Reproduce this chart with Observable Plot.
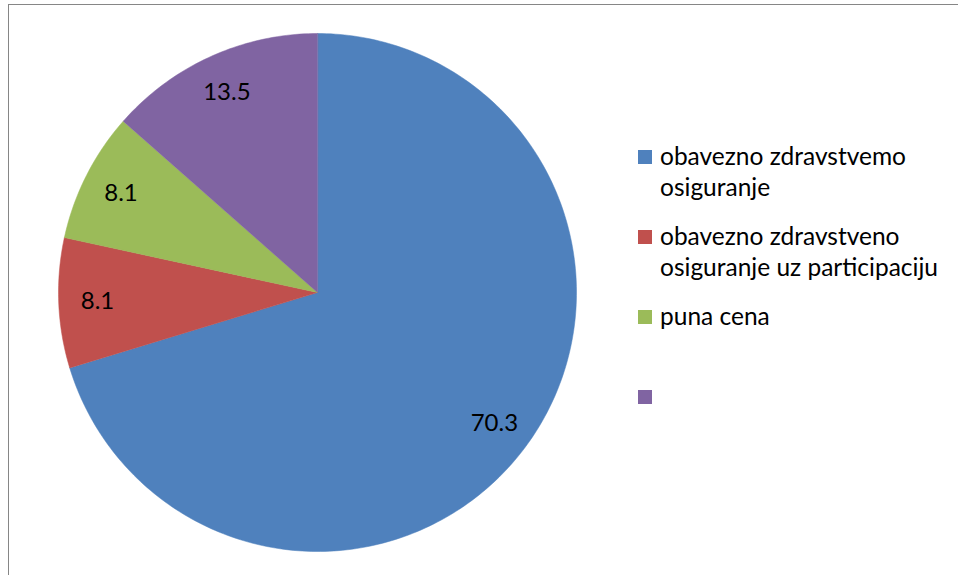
<!DOCTYPE html>
<html>
<head>
<meta charset="utf-8">
<script src="https://cdn.jsdelivr.net/npm/d3@7"></script>
<script src="https://cdn.jsdelivr.net/npm/@observablehq/plot@0.6"></script>
<style>
  html, body { margin: 0; padding: 0; background: #fff; }
  #wrap { position: relative; width: 958px; height: 575px; overflow: hidden; font-family: Lato, "Open Sans", sans-serif; }
  #frame { position: absolute; left: 8px; top: 4px; width: 960px; height: 600px; border-left: 1.5px solid #868686; border-top: 1.5px solid #868686; box-sizing: border-box; }
  #chart { position: absolute; left: 0; top: 0; }
  #legend { position: absolute; left: 638px; top: 140px; width: 318px; }
  .item { position: relative; padding-left: 22px; font-size: 24.5px; line-height: 31px; color: #000; height: 80px; }
  .sw { position: absolute; left: 0; top: 10px; width: 14px; height: 14px; }
</style>
</head>
<body>
<div id="wrap">
  <div id="frame"></div>
  <div id="chart"></div>
  <div id="legend"></div>
</div>
<script>
const categories = [
  "obavezno zdravstvemo osiguranje",
  "obavezno zdravstveno osiguranje uz participaciju",
  "puna cena",
  ""
];
const values = [70.3, 8.1, 8.1, 13.5];
const labels = ["70.3", "8.1", "8.1", "13.5"];
const colors = ["#4F81BD", "#C0504D", "#9BBB59", "#8064A2"];

const total = d3.sum(values);
const slices = [];
let acc = 0;
values.forEach((v, i) => {
  const a0 = acc / total * 2 * Math.PI;
  acc += v;
  const a1 = acc / total * 2 * Math.PI;
  slices.push({key: "s" + i, cat: categories[i], value: v, label: labels[i], a0, a1, color: colors[i]});
});

// polygon points for each slice (unit circle, clockwise from 12 o'clock)
const pts = [];
slices.forEach(s => {
  pts.push({key: s.key, color: s.color, x: 0, y: 0});
  const n = Math.max(2, Math.ceil((s.a1 - s.a0) / (Math.PI / 180)));
  for (let k = 0; k <= n; k++) {
    const a = s.a0 + (s.a1 - s.a0) * k / n;
    pts.push({key: s.key, color: s.color, x: Math.sin(a), y: Math.cos(a)});
  }
});

const labelPts = slices.map(s => {
  const m = (s.a0 + s.a1) / 2;
  return {label: s.label, x: 0.85 * Math.sin(m), y: 0.85 * Math.cos(m)};
});

const plot = Plot.plot({
  width: 958,
  height: 575,
  margin: 0,
  style: {background: "transparent", overflow: "visible"},
  x: {domain: [-1, 1], range: [58, 576], axis: null},
  y: {domain: [-1, 1], range: [551, 33], axis: null},
  marks: [
    Plot.line(pts, {x: "x", y: "y", z: "key", fill: "color", stroke: "color", strokeWidth: 0.5, curve: "linear-closed"}),
    Plot.text(labelPts, {x: "x", y: "y", text: "label", fontSize: 24, fill: "#000", fontFamily: "Lato, 'Open Sans', sans-serif"})
  ]
});
document.getElementById("chart").appendChild(plot);

const legend = document.getElementById("legend");
slices.forEach(s => {
  const item = document.createElement("div");
  item.className = "item";
  const sw = document.createElement("span");
  sw.className = "sw";
  sw.style.background = s.color;
  item.appendChild(sw);
  item.appendChild(document.createTextNode(s.cat));
  legend.appendChild(item);
});
</script>
</body>
</html>
